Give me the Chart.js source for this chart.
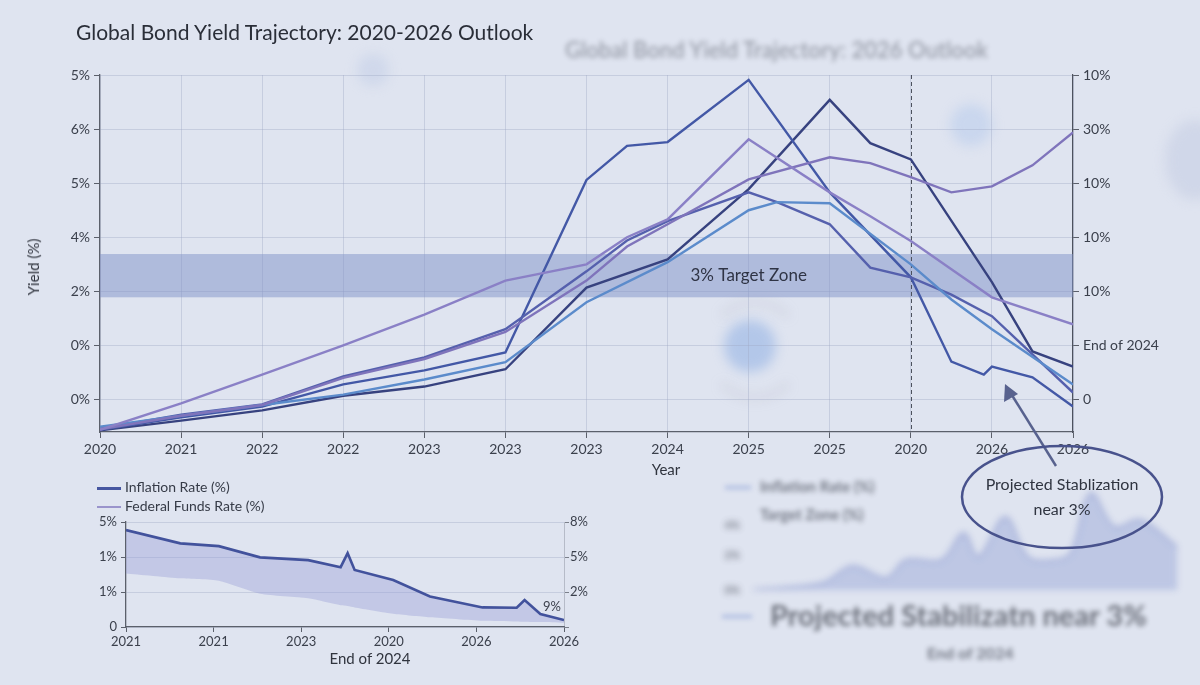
<!DOCTYPE html>
<html>
<head>
<meta charset="utf-8">
<script src="https://cdn.jsdelivr.net/npm/chart.js@4.4.1/dist/chart.umd.min.js"></script>
<style>
  body { margin: 0; background: #dfe4f0; }
  #wrap { position: relative; width: 1200px; height: 685px; overflow: hidden; background: #dfe4f0; font-family: Lato, 'Open Sans', sans-serif; color: #2c313c; }
  canvas { position: absolute; }
  .abs { position: absolute; white-space: nowrap; }
  .blob { position: absolute; border-radius: 50%; filter: blur(6px); }
  .ghost { filter: blur(2.8px); color: #454a56; opacity: 0.7; }
</style>
</head>
<body>
<div id="wrap">
  <!-- soft background blobs -->
  <div class="blob" style="left:724px;top:320px;width:52px;height:52px;background:rgba(120,160,225,0.42);"></div>
  <div class="blob" style="left:705px;top:300px;width:90px;height:90px;border:5px solid transparent;border-top-color:rgba(150,150,165,0.2);border-bottom-color:rgba(150,150,165,0.2);background:none;"></div>
  <div class="blob" style="left:950px;top:104px;width:42px;height:42px;background:rgba(170,195,235,0.4);"></div>
  <div class="blob" style="left:1165px;top:120px;width:60px;height:80px;background:rgba(190,200,225,0.45);"></div>
  <div class="blob" style="left:357px;top:54px;width:32px;height:32px;background:rgba(180,195,225,0.35);"></div>

  <div class="abs ghost" style="left:565px;top:36px;font-size:22px;font-weight:600;opacity:0.45;">Global Bond Yield Trajectory: 2026 Outlook</div>

  <canvas id="mainChart" width="1200" height="480" style="left:0;top:0;"></canvas>
  <canvas id="insetChart" width="520" height="160" style="left:80px;top:510px;"></canvas>
  <canvas id="ghostChart" width="470" height="135" style="left:725px;top:470px;filter:blur(3px);opacity:0.8;"></canvas>

  <div class="abs" style="left:76px;top:19px;font-size:21px;color:#2a2e38;">Global Bond Yield Trajectory: 2020-2026 Outlook</div>
  <div class="abs" style="left:33px;top:267px;font-size:15px;color:#30343e;transform:translate(-50%,-50%) rotate(-90deg);">Yield (%)</div>
  <div class="abs" style="left:666px;top:469px;font-size:15px;color:#30343e;transform:translate(-50%,-50%);">Year</div>
  <div class="abs" style="left:370px;top:658px;font-size:15px;color:#30343e;transform:translate(-50%,-50%);">End of 2024</div>

  <!-- inset legend -->
  <div class="abs" style="left:97px;top:487px;width:24px;height:3px;background:#4656a0;"></div>
  <div class="abs" style="left:125px;top:478px;font-size:14px;color:#363b47;">Inflation Rate (%)</div>
  <div class="abs" style="left:97px;top:506px;width:24px;height:2px;background:#9a94cc;"></div>
  <div class="abs" style="left:125px;top:497px;font-size:14px;color:#363b47;">Federal Funds Rate (%)</div>
  <div class="abs" style="left:543px;top:598px;font-size:13px;color:#3d424e;">9%</div>

  <!-- ghost legend / caption at bottom right -->
  <div class="abs ghost" style="left:725px;top:486px;width:26px;height:3px;background:#8fa3d8;"></div>
  <div class="abs ghost" style="left:760px;top:477px;font-size:15px;font-weight:700;">Inflation Rate (%)</div>
  <div class="abs ghost" style="left:760px;top:505px;font-size:15px;font-weight:700;">Target Zone (%)</div>
  <div class="abs ghost" style="left:722px;top:615px;width:30px;height:3px;background:#8fa3d8;"></div>
  <div class="abs ghost" style="left:770px;top:597px;font-size:29px;font-weight:700;color:#30343e;opacity:0.65;">Projected Stabilizatn near 3%</div>
  <div class="abs ghost" style="left:927px;top:643px;font-size:16px;font-weight:700;">End of 2024</div>

  <!-- annotation -->
  <svg class="abs" width="1200" height="685" style="left:0;top:0;" viewBox="0 0 1200 685">
    <line x1="1056" y1="466" x2="1010" y2="392" stroke="#58628e" stroke-width="2.5"/>
    <path d="M1005,384 L1004,402 L1018,394 z" fill="#58628e"/>
    <ellipse cx="1062" cy="497" rx="100" ry="51" fill="none" stroke="#48528c" stroke-width="2.5"/>
  </svg>
  <div class="abs" style="left:962px;top:471px;width:200px;text-align:center;font-size:16px;line-height:25px;color:#2f3440;">Projected Stablization<br>near 3%</div>
</div>

<script>
// main chart data
const xLabels = ['2020', '2021', '2022', '2022', '2023', '2023', '2023', '2024', '2025', '2025', '2020', '2026', '2026'];
const yLeftLabels = ['0%', '0%', '2%', '4%', '5%', '6%', '5%'];
const yRightLabels = ['0', 'End of 2024', '10%', '10%', '10%', '30%', '10%'];
const xGrid = [0, 1, 2, 3, 4, 5, 6, 6.5, 7, 8, 8.35, 9, 9.5, 10, 10.5, 10.9, 11, 11.5, 12];

const purpleA = [-0.56, -0.07, 0.46, 1.0, 1.57, 2.2, 2.5, 3.0, 3.33, 4.81, null, 3.83, 3.39, 2.93, 2.41, null, 1.89, null, 1.39];
const purpleB = [-0.55, -0.3, -0.1, 0.4, 0.75, 1.25, 2.2, 2.83, 3.24, 4.07, null, 4.48, 4.37, 4.11, 3.83, null, 3.94, 4.33, 4.94];
const lightBlue = [-0.5, -0.3, -0.1, 0.09, 0.37, 0.69, 1.8, null, 2.54, 3.5, 3.65, 3.63, null, 2.5, 1.85, null, 1.3, null, 0.28];
const midBlue = [-0.54, -0.28, -0.09, 0.43, 0.78, 1.3, 2.37, 2.94, 3.3, 3.83, 3.65, 3.24, 2.44, 2.26, 1.94, null, 1.54, null, 0.13];
const blueLine = [-0.56, -0.33, -0.13, 0.28, 0.54, 0.87, 4.06, 4.69, 4.76, 5.91, null, 3.83, null, 2.26, 0.70, 0.46, 0.61, 0.41, -0.13];
const navyLine = [-0.57, -0.39, -0.2, 0.07, 0.24, 0.56, 2.07, null, 2.59, 3.89, null, 5.54, 4.74, 4.44, null, null, 2.17, 0.89, 0.61];

const targetZone = [1.89, 2.69];
const targetLabelX = 8;
const markerX = 10;

// inset chart data
const insetLabels = ['2021', '2021', '2023', '2020', '2026', '2026'];
const insetLeftLabels = ['0', '1%', '1%', '5%'];
const insetRightLabels = ['', '2%', '5%', '8%'];
const insetX = [0, 0.62, 1.06, 1.53, 2.08, 2.45, 2.53, 2.61, 3.05, 3.47, 4.07, 4.46, 4.55, 4.73, 5];
const inflation = [2.77, 2.39, 2.31, 1.99, 1.91, 1.71, 2.11, 1.63, 1.34, 0.87, 0.56, 0.55, 0.77, 0.37, 0.2];
const fedFunds = [1.53, 1.39, 1.32, 0.95, 0.82, 0.62, 0.6, 0.56, 0.38, 0.28, 0.18, 0.16, 0.15, 0.14, 0.12];

// blurred background chart
const ghostX = [0, 7, 10, 13.4, 15.4, 19, 21.2, 22.7, 25.4, 27.7, 30.4, 32, 34, 36.4, 39, 42.7];
const ghostY = [0, 0.7, 2.4, 1.2, 3.0, 3.0, 5.7, 3.3, 7.3, 3.3, 3.0, 3.7, 9.7, 6.3, 7.0, 4.3];

const textColor = '#3b404c';
const gridColor = 'rgba(160,170,198,0.4)';
const fontFamily = "Lato, 'Open Sans', sans-serif";

function pts(xs, ys) {
    return xs.map((x, i) => ({ x: x, y: ys[i] }));
}

// target zone band, its label and the dashed marker line
const zonePlugin = {
    id: 'zone',
    beforeDatasetsDraw(chart) {
        const { ctx, chartArea, scales } = chart;
        const yTop = scales.y.getPixelForValue(targetZone[1]);
        const yBot = scales.y.getPixelForValue(targetZone[0]);
        ctx.save();
        ctx.fillStyle = 'rgba(128,146,200,0.5)';
        ctx.fillRect(chartArea.left, yTop, chartArea.right - chartArea.left, yBot - yTop);
        ctx.font = '17px ' + fontFamily;
        ctx.fillStyle = '#2f3445';
        ctx.textAlign = 'center';
        ctx.textBaseline = 'middle';
        ctx.fillText('3% Target Zone', scales.x.getPixelForValue(targetLabelX), (yTop + yBot) / 2);
        const mx = Math.round(scales.x.getPixelForValue(markerX)) + 0.5;
        ctx.strokeStyle = '#4d525e';
        ctx.lineWidth = 1;
        ctx.setLineDash([4, 3]);
        ctx.beginPath();
        ctx.moveTo(mx, chartArea.top);
        ctx.lineTo(mx, chartArea.bottom);
        ctx.stroke();
        ctx.restore();
    }
};

const lineSet = (data, color) => ({
    data: pts(xGrid, data),
    borderColor: color,
    borderWidth: 2.4,
    pointRadius: 0,
    tension: 0,
    spanGaps: true,
    fill: false
});

new Chart(document.getElementById('mainChart'), {
    type: 'line',
    data: {
        datasets: [
            lineSet(purpleA, '#8a80c6'),
            lineSet(purpleB, '#7f74bb'),
            lineSet(lightBlue, '#5b8bcb'),
            lineSet(midBlue, '#5560ad'),
            lineSet(blueLine, '#4358a6'),
            lineSet(navyLine, '#37427f')
        ]
    },
    options: {
        responsive: false,
        animation: false,
        layout: { padding: { left: 20, top: 75, right: 0, bottom: 0 } },
        plugins: { legend: { display: false }, tooltip: { enabled: false } },
        scales: {
            x: {
                type: 'linear', min: 0, max: 12,
                afterBuildTicks: s => { s.ticks = xLabels.map((l, i) => ({ value: i })); },
                afterFit: s => { s.height = 48; },
                ticks: { callback: v => xLabels[Math.round(v)], color: textColor, font: { family: fontFamily, size: 14 }, padding: 3, maxRotation: 0, autoSkip: false },
                grid: { color: gridColor, tickLength: 6, tickColor: '#5b606b' },
                border: { color: '#5b606b', width: 1.3 }
            },
            y: {
                type: 'linear', position: 'left', min: -0.6, max: 6,
                afterBuildTicks: s => { s.ticks = yLeftLabels.map((l, i) => ({ value: i })); },
                afterFit: s => { s.width = 80; },
                ticks: { callback: v => yLeftLabels[Math.round(v)], color: textColor, font: { family: fontFamily, size: 14 }, padding: 4, autoSkip: false },
                grid: { color: gridColor, tickLength: 6, tickColor: '#5b606b' },
                border: { color: '#5b606b', width: 1.3 }
            },
            y2: {
                type: 'linear', position: 'right', min: -0.6, max: 6,
                afterBuildTicks: s => { s.ticks = yRightLabels.map((l, i) => ({ value: i })); },
                afterFit: s => { s.width = 127; },
                ticks: { callback: v => yRightLabels[Math.round(v)], color: textColor, font: { family: fontFamily, size: 14 }, padding: 4, autoSkip: false },
                grid: { drawOnChartArea: false, tickLength: 6, tickColor: '#5b606b' },
                border: { color: '#4d525e', width: 1.2, dash: [4, 3] }
            }
        }
    },
    plugins: [zonePlugin]
});

// small chart at the lower left
new Chart(document.getElementById('insetChart'), {
    type: 'line',
    data: {
        datasets: [
            {
                label: 'Inflation Rate (%)',
                data: pts(insetX, inflation),
                borderColor: '#42529c',
                borderWidth: 2.6,
                pointRadius: 0,
                tension: 0,
                fill: false
            },
            {
                label: 'Federal Funds Rate (%)',
                data: pts(insetX, fedFunds),
                borderColor: 'rgba(0,0,0,0)',
                borderWidth: 0,
                pointRadius: 0,
                tension: 0.2,
                fill: '-1',
                backgroundColor: 'rgba(150,156,212,0.38)'
            }
        ]
    },
    options: {
        responsive: false,
        animation: false,
        layout: { padding: { left: 0, top: 12, right: 0, bottom: 0 } },
        plugins: { legend: { display: false }, tooltip: { enabled: false } },
        scales: {
            x: {
                type: 'linear', min: 0, max: 5,
                afterBuildTicks: s => { s.ticks = insetLabels.map((l, i) => ({ value: i })); },
                afterFit: s => { s.height = 43; },
                ticks: { callback: v => insetLabels[Math.round(v)], color: textColor, font: { family: fontFamily, size: 13 }, padding: 2, maxRotation: 0, autoSkip: false },
                grid: { drawOnChartArea: false, tickLength: 5, tickColor: '#5b606b' },
                border: { color: '#5b606b', width: 1.3 }
            },
            y: {
                type: 'linear', position: 'left', min: 0, max: 3,
                afterBuildTicks: s => { s.ticks = insetLeftLabels.map((l, i) => ({ value: i })); },
                afterFit: s => { s.width = 46; },
                ticks: { callback: v => insetLeftLabels[Math.round(v)], color: textColor, font: { family: fontFamily, size: 13 }, padding: 4, autoSkip: false },
                grid: { color: gridColor, tickLength: 5, tickColor: '#5b606b' },
                border: { color: '#5b606b', width: 1.3 }
            },
            y2: {
                type: 'linear', position: 'right', min: 0, max: 3,
                afterBuildTicks: s => { s.ticks = insetRightLabels.map((l, i) => ({ value: i })); },
                afterFit: s => { s.width = 36; },
                ticks: { callback: v => insetRightLabels[Math.round(v)], color: textColor, font: { family: fontFamily, size: 13 }, padding: 1, autoSkip: false },
                grid: { drawOnChartArea: false, tickLength: 5, tickColor: '#7a7f8a' },
                border: { color: 'rgba(120,126,140,0.4)', width: 1 }
            }
        }
    }
});

// faded duplicate chart in the lower right corner
new Chart(document.getElementById('ghostChart'), {
    type: 'line',
    data: {
        datasets: [{
            data: pts(ghostX, ghostY),
            borderColor: 'rgba(125,140,200,0.8)',
            borderWidth: 2,
            backgroundColor: 'rgba(140,155,212,0.5)',
            pointRadius: 0,
            tension: 0.35,
            fill: 'origin'
        }]
    },
    options: {
        responsive: false,
        animation: false,
        layout: { padding: { left: 0, top: 20, right: 10, bottom: 15 } },
        plugins: { legend: { display: false }, tooltip: { enabled: false } },
        scales: {
            x: { type: 'linear', min: -0.3, max: 43.5, display: false },
            y: {
                type: 'linear', min: 0, max: 10,
                afterBuildTicks: s => { s.ticks = [{ value: 0 }, { value: 3.5 }, { value: 6.5 }]; },
                afterFit: s => { s.width = 25; },
                ticks: { callback: v => (v === 0 ? '0%' : v < 5 ? '2%' : '4%'), color: '#555a66', font: { family: fontFamily, size: 11, weight: 'bold' }, padding: 2 },
                grid: { display: false },
                border: { display: false }
            }
        }
    }
});
</script>
</body>
</html>
